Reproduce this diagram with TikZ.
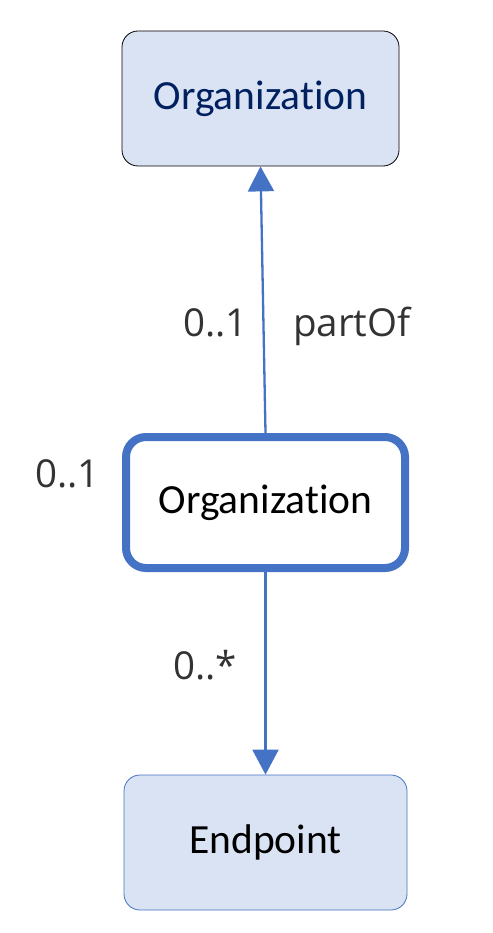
\documentclass[tikz,border=0pt]{standalone}
\usepackage{fontspec}
\setmainfont{Carlito}[Ligatures=NoCommon]
\newfontfamily\labelfont{Open Sans}
\usetikzlibrary{arrows.meta}
\definecolor{boxfill}{HTML}{DAE3F3}
\definecolor{linkblue}{HTML}{4472C4}
\definecolor{navy}{HTML}{002060}
\definecolor{labelgray}{HTML}{333333}

\begin{document}
\begin{tikzpicture}[x=1pt, y=-1pt,
    classbox/.style={rectangle, rounded corners=16pt, fill=boxfill, inner sep=0pt,
        font=\fontsize{41.5}{48}\selectfont},
    mult/.style={anchor=base west, inner sep=0pt, text=labelgray,
        font=\labelfont\fontsize{38.5}{46}\selectfont},
    link/.style={draw=linkblue, line width=2.3pt, -{Triangle[width=26pt,length=25pt]}}]
    \useasboundingbox (0,0) rectangle (492,933);

    \node[classbox, draw=black, line width=0.8pt, text=navy,
        minimum width=277pt, minimum height=135pt] (parent) at (260.5,98.5) {Organization};
    \node[classbox, draw=linkblue, line width=8pt, fill=white, rounded corners=20pt,
        minimum width=279pt, minimum height=131pt] (org) at (265.5,502.5) {Organization};
    \node[classbox, draw=linkblue, line width=0.8pt,
        minimum width=283pt, minimum height=135pt] (endpoint) at (265.5,842.5) {Endpoint};

    \node[mult] (m1) at (183,336) {0..1};
    \node[mult] (role) at (293,336) {partOf};
    \node[mult] (m2) at (35,487) {0..1};
    \node[mult] (m3) at (173,679) {0..*};

    \path
    (org.north) edge[link] (parent.south)
    (org.south) edge[link] (endpoint.north);
\end{tikzpicture}
\end{document}
